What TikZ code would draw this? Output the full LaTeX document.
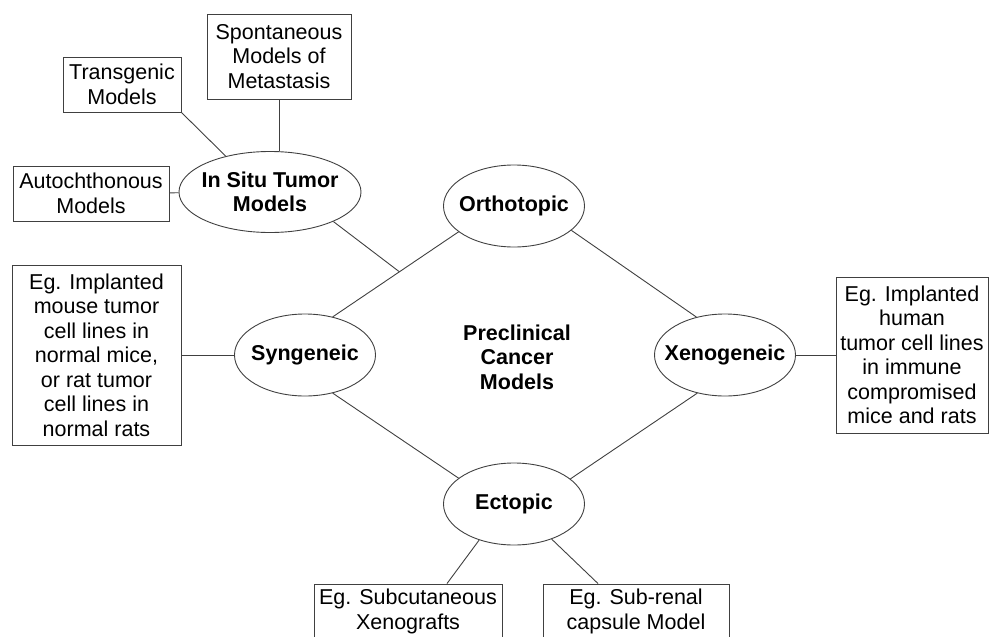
\documentclass[tikz,border=0pt]{standalone}
\usepackage{fontspec}
\setmainfont{Liberation Sans}
\usetikzlibrary{shapes.geometric}

\begin{document}
\begin{tikzpicture}[x=1pt,y=-1pt,
model/.style={ellipse,draw=black!75,line width=0.9pt,inner xsep=-15pt,inner ysep=0pt,
  minimum width=141pt,minimum height=82pt,align=center,
  font=\bfseries\fontsize{21.5}{24.5}\selectfont},
example/.style={rectangle,draw=black!75,line width=0.9pt,inner sep=0pt,align=center,
  font=\fontsize{21.5}{24.5}\selectfont},
link/.style={line width=0.9pt,black!75}]

\useasboundingbox (0,0) rectangle (989,637);

% In situ tumor models
\node[model,minimum width=182pt,minimum height=81pt] (insitu) at (270,192) {In Situ Tumor\\Models};

\node[example,minimum width=144pt,minimum height=85pt] (spont) at (279,56.5) {Spontaneous\\Models of\\Metastasis};
\node[example,minimum width=118pt,minimum height=55pt] (transg) at (122,84.5) {Transgenic\\Models};
\node[example,minimum width=156pt,minimum height=55pt] (autoch) at (91,193.5) {Autochthonous\\Models};

% The four models
\node[model] (ortho) at (514,206) {Orthotopic};
\node[model] (syn) at (305,355) {Syngeneic};
\node[model] (xeno) at (725,355) {Xenogeneic};
\node[model] (ecto) at (514,504) {Ectopic};

\node[align=center,font=\bfseries\fontsize{21.5}{24.5}\selectfont] (precl) at (517,357) {Preclinical\\Cancer\\Models};

% Examples
\node[example,minimum width=169pt,minimum height=180pt] (synbox) at (96.5,355)
{Eg. Implanted\\mouse tumor\\cell lines in\\normal mice,\\or rat tumor\\cell lines in\\normal rats};
\node[example,minimum width=152pt,minimum height=156pt] (xenobox) at (912,355)
{Eg. Implanted\\human\\tumor cell lines\\in immune\\compromised\\mice and rats};
% bottom boxes run off the page
\node[example,minimum width=188pt,minimum height=70pt,text depth=20pt] (subcut) at (408,619) {Eg. Subcutaneous\\Xenografts};
\node[example,minimum width=186pt,minimum height=70pt,text depth=20pt] (subren) at (636,619) {Eg. Sub-renal\\capsule Model};

% Connectors
\draw[link] (syn.54) -- coordinate[pos=0.53] (junc) (ortho.205);
\draw[link] (insitu.335) -- (junc);
\draw[link] (ortho.337) -- (xeno.127);
\draw[link] (syn.306) -- (ecto.155);
\draw[link] (xeno.234) -- (ecto.24);

\draw[link] (transg.south east) -- (insitu.141);
\draw[link] (spont.south) -- (spont.south |- insitu.north);
\draw[link] (autoch) -- (insitu);

\draw[link] (synbox) -- (syn);
\draw[link] (xeno) -- (xenobox);
\draw[link] (ecto.226) -- ([xshift=39pt]subcut.north);
\draw[link] (ecto.317) -- ([xshift=-38pt]subren.north);

\end{tikzpicture}
\end{document}
